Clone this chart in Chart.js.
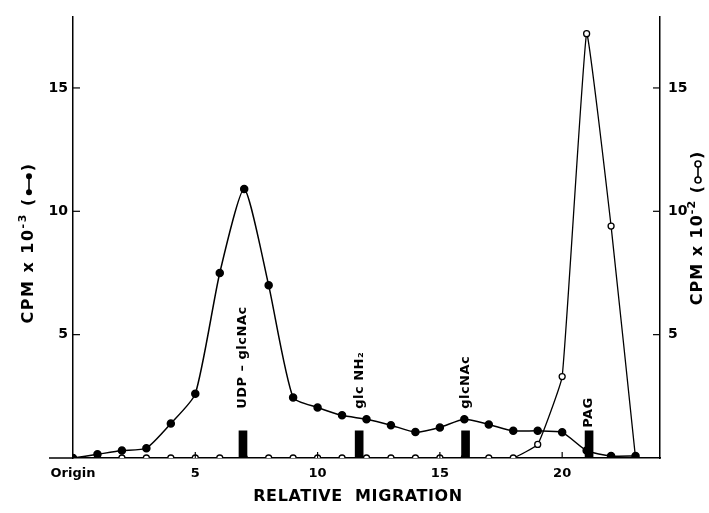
<!DOCTYPE html>
<html>
<head>
<meta charset="utf-8">
<script src="https://cdn.jsdelivr.net/npm/chart.js@4"></script>
<style>
  html, body { margin: 0; padding: 0; background: #fff; }
  #wrap { width: 709px; height: 513px; }
</style>
</head>
<body>
<div id="wrap"><canvas id="chart" width="709" height="513"></canvas></div>
<script>
// relative migration positions (0 = origin)
const positions = [0, 1, 2, 3, 4, 5, 6, 7, 8, 9, 10, 11, 12, 13, 14, 15, 16, 17, 18, 19, 20, 21, 22, 23];
// CPM x 10^-3 (filled circles)
const filledCpm = [0, 0.15, 0.3, 0.4, 1.4, 2.6, 7.5, 10.9, 7.0, 2.45, 2.05, 1.73, 1.57, 1.33, 1.05, 1.24, 1.57, 1.36, 1.1, 1.1, 1.04, 0.3, 0.08, 0.08];
// CPM x 10^-2 (open circles)
const openCpm = [0, 0, 0, 0, 0, 0, 0, 0, 0, 0, 0, 0, 0, 0, 0, 0, 0, 0, 0, 0.55, 3.3, 17.2, 9.4, 0];
// reference standards
const standards = ["UDP – glcNAc", "glc NH₂", "glcNAc", "PAG"];
const standardPos = [6.95, 11.7, 16.05, 21.1];
const standardHeight = [1.1, 1.1, 1.1, 1.1];
// ticks
const xTicks = [0, 5, 10, 15, 20];
const yTicks = [5, 10, 15];

const FONT = "'DejaVu Sans', sans-serif";

const decor = {
  id: 'decor',
  afterDraw(chart) {
    const c = chart.ctx;
    const x = chart.scales.x, y = chart.scales.y, y2 = chart.scales.y2;
    const base = y.getPixelForValue(0);
    c.save();
    c.strokeStyle = '#000';
    c.lineWidth = 1.5;
    // baseline continues a little left of the axis
    c.beginPath();
    c.moveTo(49, base); c.lineTo(x.left, base);
    c.stroke();
    // inward tick marks
    c.lineWidth = 1.2;
    yTicks.forEach(v => {
      const p = y.getPixelForValue(v);
      c.beginPath(); c.moveTo(x.left, p); c.lineTo(x.left + 7, p); c.stroke();
      const q = y2.getPixelForValue(v);
      c.beginPath(); c.moveTo(x.right, q); c.lineTo(x.right - 7, q); c.stroke();
    });
    xTicks.slice(1).forEach(v => {
      const p = x.getPixelForValue(v);
      c.beginPath(); c.moveTo(p, base); c.lineTo(p, base - 6); c.stroke();
    });

    // standard labels, rotated
    c.fillStyle = '#000';
    c.font = "bold 13px " + FONT;
    c.letterSpacing = '0.5px';
    c.textBaseline = 'middle';
    c.textAlign = 'left';
    const gaps = [22, 22, 22, 3];
    standards.forEach((s, i) => {
      const px = x.getPixelForValue(standardPos[i]);
      const py = y.getPixelForValue(standardHeight[i]) - gaps[i];
      c.save();
      c.translate(px, py);
      c.rotate(-Math.PI / 2);
      c.fillText(s, 0, 0);
      c.restore();
    });

    // axis titles
    drawTitle(c, 29, 243, "CPM x 10", "-3", true, '1.5px');
    drawTitle(c, 698, 228, "CPM x 10", "-2", false, '1px');

    c.font = "bold 16px " + FONT;
    c.letterSpacing = '0.6px';
    c.textAlign = 'center';
    c.textBaseline = 'middle';
    c.fillText("RELATIVE  MIGRATION", 358, 497);
    c.restore();
  }
};

function drawTitle(c, cx, cy, text, sup, filled, spacing) {
  c.save();
  c.fillStyle = '#000';
  c.strokeStyle = '#000';
  c.textBaseline = 'middle';
  c.textAlign = 'left';
  c.letterSpacing = spacing;
  const big = "bold 16px " + FONT, small = "bold 11px " + FONT;
  c.font = big;
  const w1 = c.measureText(text).width;
  const w3 = c.measureText(' (').width;
  const w2 = c.measureText(')').width;
  c.font = small;
  const ws = c.measureText(sup).width;
  const sym = 26;
  const total = w1 + ws + w3 + sym + w2;
  c.translate(cx, cy);
  c.rotate(-Math.PI / 2);
  let s = -total / 2;
  c.font = big;
  c.fillText(text, s, 0);
  s += w1;
  c.font = small;
  c.fillText(sup, s, -6);
  s += ws;
  c.font = big;
  c.fillText(' (', s, 0);
  s += w3;
  // little line-with-dots symbol
  c.lineWidth = 1.6;
  c.beginPath(); c.moveTo(s + 5, 0); c.lineTo(s + sym - 5, 0); c.stroke();
  [s + 5, s + sym - 5].forEach(px => {
    c.beginPath(); c.arc(px, 0, 3, 0, Math.PI * 2);
    if (filled) { c.fill(); } else { c.fillStyle = '#fff'; c.fill(); c.fillStyle = '#000'; c.stroke(); }
  });
  c.fillText(')', s + sym, 0);
  c.restore();
}

new Chart(document.getElementById('chart'), {
  type: 'line',
  data: {
    datasets: [
      {
        label: 'CPM x 10^-3',
        data: positions.map((p, i) => ({ x: p, y: filledCpm[i] })),
        yAxisID: 'y',
        borderColor: '#000',
        borderWidth: 1.5,
        backgroundColor: '#000',
        pointBackgroundColor: '#000',
        pointBorderColor: '#000',
        pointRadius: 3.5,
        tension: 0.2,
        order: 1
      },
      {
        label: 'CPM x 10^-2',
        data: positions.map((p, i) => ({ x: p, y: openCpm[i] })),
        yAxisID: 'y2',
        borderColor: '#000',
        borderWidth: 1.3,
        pointBackgroundColor: '#fff',
        pointBorderColor: '#000',
        pointBorderWidth: 1.3,
        pointRadius: 3,
        tension: 0.1,
        order: 2
      },
      {
        type: 'bar',
        label: 'standards',
        data: standardPos.map((p, i) => ({ x: p, y: standardHeight[i] })),
        yAxisID: 'y',
        backgroundColor: '#000',
        barThickness: 8,
        order: 0
      }
    ]
  },
  options: {
    responsive: false,
    animation: false,
    events: [],
    layout: { padding: { top: 4 } },
    plugins: { legend: { display: false }, tooltip: { enabled: false } },
    scales: {
      x: {
        type: 'linear',
        min: 0, max: 24,
        offset: false,
        afterBuildTicks: s => { s.ticks = xTicks.map(v => ({ value: v })); },
        afterFit: s => { s.height = 55; },
        grid: { display: false, drawTicks: false },
        border: { display: true, color: '#000', width: 1.5 },
        ticks: {
          color: '#000', padding: 8, maxRotation: 0,
          font: { family: FONT, size: 13, weight: 'bold' },
          callback: v => v === 0 ? 'Origin' : v
        }
      },
      y: {
        position: 'left',
        min: 0, max: 17.9,
        afterBuildTicks: s => { s.ticks = yTicks.map(v => ({ value: v })); },
        afterFit: s => { s.width = 73; },
        grid: { display: false, drawTicks: false },
        border: { display: true, color: '#000', width: 1.5 },
        ticks: { color: '#000', padding: 5, font: { family: FONT, size: 14, weight: 'bold' } }
      },
      y2: {
        position: 'right',
        min: 0, max: 17.9,
        afterBuildTicks: s => { s.ticks = yTicks.map(v => ({ value: v })); },
        afterFit: s => { s.width = 49; },
        grid: { display: false, drawTicks: false },
        border: { display: true, color: '#000', width: 1.5 },
        ticks: { color: '#000', padding: 8, font: { family: FONT, size: 14, weight: 'bold' } }
      }
    }
  },
  plugins: [decor]
});
</script>
</body>
</html>
